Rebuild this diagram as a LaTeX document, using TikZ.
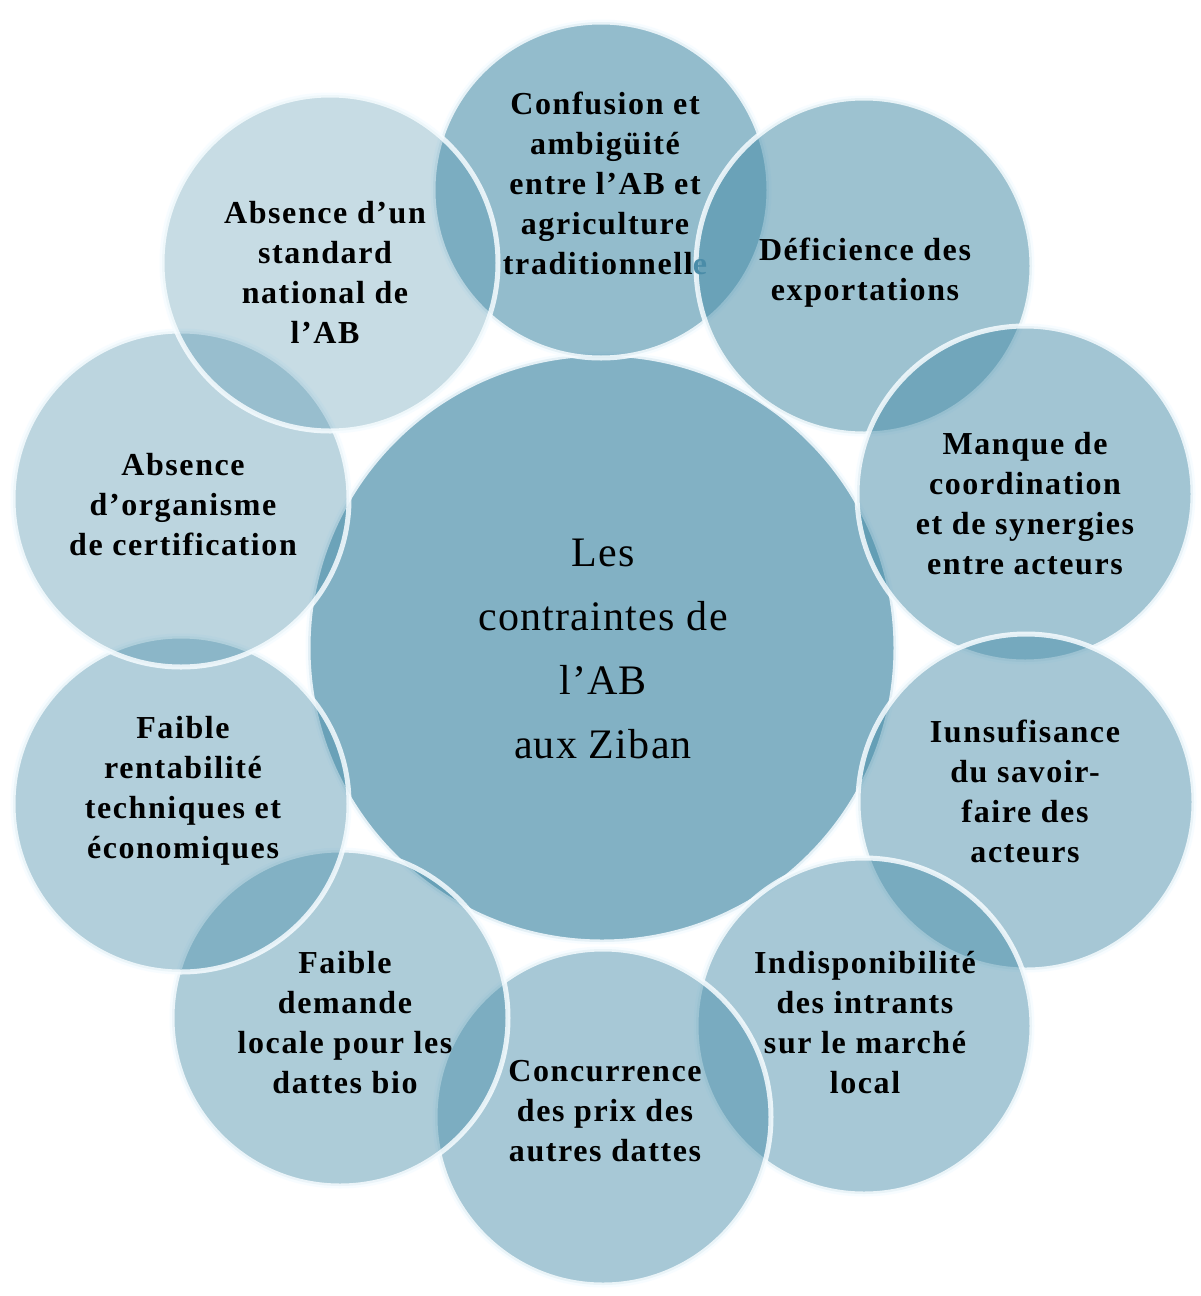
\documentclass[tikz,border=0pt]{standalone}
\usepackage{fontspec}
\setmainfont{Liberation Serif}
\newfontfamily\lsfont[LetterSpace=5]{Liberation Serif}
\newfontfamily\lsbigfont[LetterSpace=3]{Liberation Serif}
\definecolor{bub}{RGB}{70,140,168}
\definecolor{rim}{RGB}{246,252,255}
\definecolor{ecol}{RGB}{74,140,168}
\tikzset{
  bubble/.style={circle, fill=bub, fill opacity=#1, draw=rim, draw opacity=0.85,
    line width=5pt, minimum size=336pt, inner sep=0pt},
  bigbubble/.style={bubble=#1, minimum size=588pt},
  lbl/.style={align=center, text=black, inner sep=0pt,
    font=\lsfont\bfseries\fontsize{32}{40}\selectfont},
  biglbl/.style={align=center, text=black, inner sep=0pt,
    font=\lsbigfont\fontsize{42}{64}\selectfont},
}
\begin{document}
\begin{tikzpicture}[x=1pt,y=-1pt]
\useasboundingbox (0,0) rectangle (1200,1296);
\fill[white] (0,0) rectangle (1200,1296);
% central circle
\node[bigbubble=0.67] (c0) at (602,648) {};
% outer circles
\node[bubble=0.58] (c1) at (601,190) {};
\node[bubble=0.53] (c2) at (864,266) {};
\node[bubble=0.50] (c3) at (1025,494) {};
\node[bubble=0.48] (c4) at (1026,802) {};
\node[bubble=0.47] (c5) at (864,1026) {};
\node[bubble=0.47] (c6) at (603,1117) {};
\node[bubble=0.44] (c7) at (340,1018) {};
\node[bubble=0.41] (c8) at (181,804) {};
\node[bubble=0.36] (c9) at (181,499) {};
\node[bubble=0.30] (c10) at (330,263) {};
% labels
\node[biglbl] (t0) at (603,649) {Les\\contraintes de\\l’AB\\aux Ziban};
\node[lbl] (t1) at (605,183) {Confusion et\\ambigüité\\entre l’AB et\\agriculture\\traditionnell{\color{ecol}e}};
\node[lbl] (t2) at (865,273) {Déficience des\\exportations};
\node[lbl] (t3) at (1025,504) {Manque de\\coordination\\et de synergies\\entre acteurs};
\node[lbl] (t4) at (1025,791) {Iunsufisance\\du savoir-\\faire des\\acteurs};
\node[lbl] (t5) at (865,1023) {Indisponibilité\\des intrants\\sur le marché\\local};
\node[lbl] (t6) at (605,1111) {Concurrence\\des prix des\\autres dattes};
\node[lbl] (t7) at (345,1023) {Faible\\demande\\locale pour les\\dattes bio};
\node[lbl] (t8) at (183,791) {Faible\\rentabilité\\techniques et\\économiques};
\node[lbl] (t9) at (183,505) {Absence\\d’organisme\\de certification};
\node[lbl] (t10) at (325,272) {Absence d’un\\standard\\national de\\l’AB};
\end{tikzpicture}
\end{document}
